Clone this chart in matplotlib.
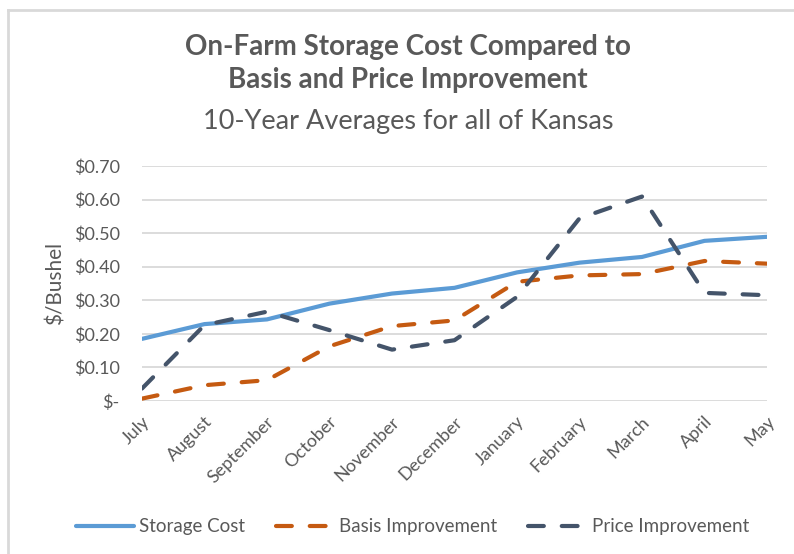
import matplotlib
matplotlib.use('Agg')
import matplotlib.pyplot as plt
import matplotlib.transforms as mtransforms
from matplotlib.lines import Line2D

months = ['July', 'August', 'September', 'October', 'November', 'December',
          'January', 'February', 'March', 'April', 'May']
storage_cost = [0.185, 0.229, 0.243, 0.290, 0.320, 0.337, 0.383, 0.412, 0.429, 0.477, 0.489]
basis_improvement = [0.007, 0.047, 0.062, 0.163, 0.223, 0.240, 0.355, 0.374, 0.378, 0.417, 0.409]
price_improvement = [0.037, 0.226, 0.266, 0.211, 0.153, 0.181, 0.310, 0.544, 0.609, 0.322, 0.315]
y_ticks = [0.0, 0.1, 0.2, 0.3, 0.4, 0.5, 0.6, 0.7]
y_labels = ['$-', '$0.10', '$0.20', '$0.30', '$0.40', '$0.50', '$0.60', '$0.70']

plt.rcParams['font.family'] = ['Lato', 'DejaVu Sans']
grey = '#595959'

fig = plt.figure(figsize=(7.94, 5.54), dpi=100)
ax = fig.add_axes([0.1788, 0.2762, 0.7872, 0.4242])

x = list(range(len(months)))
ax.plot(x, storage_cost, color='#5B9BD5', lw=3, solid_capstyle='round', label='Storage Cost')
ax.plot(x, basis_improvement, color='#C55A11', lw=3, dashes=(3.8, 4.3),
        dash_capstyle='round', label='Basis Improvement')
ax.plot(x, price_improvement, color='#44546A', lw=3, dashes=(3.8, 4.3),
        dash_capstyle='round', label='Price Improvement')

ax.set_xlim(0, len(months) - 1)
ax.set_ylim(0, 0.7)
ax.set_yticks(y_ticks)
ax.set_yticklabels(y_labels, fontsize=13, color=grey)
ax.set_xticks(x)
ax.set_xticklabels(months, fontsize=13, color=grey, rotation=45,
                   ha='right', va='center', rotation_mode='anchor')
ax.tick_params(axis='both', length=0)
ax.tick_params(axis='y', pad=16)
ax.tick_params(axis='x', pad=13)
shift = mtransforms.ScaledTranslation(5 / 100, 0, fig.dpi_scale_trans)
for lbl in ax.get_xticklabels():
    lbl.set_transform(lbl.get_transform() + shift)
ax.grid(axis='y', color='#D9D9D9', lw=1.3)
ax.set_axisbelow(True)
for s in ax.spines.values():
    s.set_visible(False)
ax.set_ylabel('$/Bushel', fontsize=15, color=grey, labelpad=6)

fig.text(0.514, 0.915, 'On-Farm Storage Cost Compared to', ha='center', va='center',
         fontsize=20, fontweight='bold', color=grey)
fig.text(0.514, 0.856, 'Basis and Price Improvement', ha='center', va='center',
         fontsize=20, fontweight='bold', color=grey)
fig.text(0.514, 0.780, '10-Year Averages for all of Kansas', ha='center', va='center',
         fontsize=19.5, color=grey)

leg = fig.legend(loc='center', bbox_to_anchor=(0.5195, 0.049), ncol=3, frameon=False,
                 fontsize=13.5, handlelength=3.1, handletextpad=0.27, columnspacing=1.65)
for t in leg.get_texts():
    t.set_color(grey)

# chart border (cropped at right and bottom)
fig.add_artist(Line2D([0.0101, 1.0], [1 - 10 / 554, 1 - 10 / 554], transform=fig.transFigure,
                      color='#D9D9D9', lw=2))
fig.add_artist(Line2D([0.0101, 0.0101], [0.0, 1 - 10 / 554], transform=fig.transFigure,
                      color='#D9D9D9', lw=2))

fig.savefig('out.png', dpi=100)
